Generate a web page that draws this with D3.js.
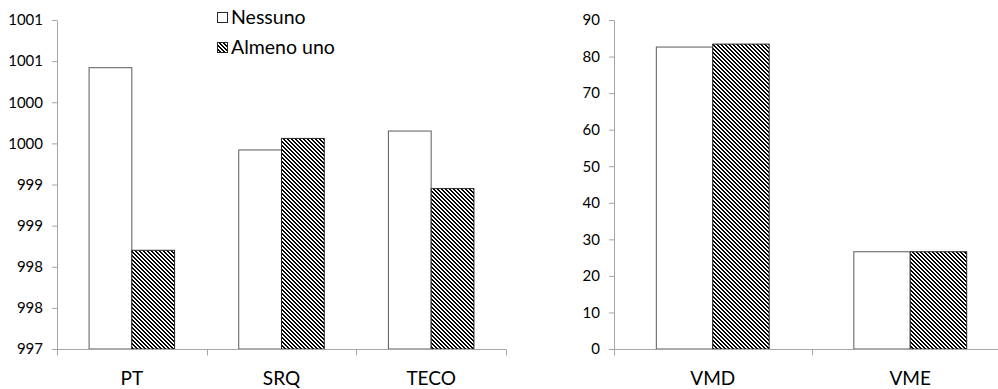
<!DOCTYPE html>
<html><head><meta charset="utf-8">
<script src="https://cdn.jsdelivr.net/npm/d3@7"></script>
<style>
body{margin:0;background:#fff}
svg{display:block}
text{font-family:Lato, "Open Sans", sans-serif; fill:#000}
</style>
</head><body>
<svg id="chart" width="998" height="389"></svg>
<script>
// ---- data ----
const seriesNames = ["Nessuno", "Almeno uno"];
const leftCategories = ["PT", "SRQ", "TECO"];
const leftNessuno = [1000.42, 999.42, 999.65];
const leftAlmeno = [998.20, 999.56, 998.95];
const leftTickValues = [997, 997.5, 998, 998.5, 999, 999.5, 1000, 1000.5, 1001];
const leftTickLabels = ["997", "998", "998", "999", "999", "1000", "1000", "1001", "1001"];
const rightCategories = ["VMD", "VME"];
const rightNessuno = [82.6, 26.6];
const rightAlmeno = [83.4, 26.6];
const rightTickValues = [0, 10, 20, 30, 40, 50, 60, 70, 80, 90];
const rightTickLabels = ["0", "10", "20", "30", "40", "50", "60", "70", "80", "90"];

const svg = d3.select("#chart");
const defs = svg.append("defs");
const pat = defs.append("pattern").attr("id", "hatch")
  .attr("width", 4).attr("height", 4).attr("patternUnits", "userSpaceOnUse");
pat.append("rect").attr("width", 4).attr("height", 4).attr("fill", "#fff");
pat.append("path").attr("shape-rendering", "crispEdges").attr("fill", "#000")
  .attr("d", "M0,0h2v1h-2z M1,1h2v1h-2z M2,2h2v1h-2z M3,3h1v1h-1z M0,3h1v1h-1z");

const axisColor = "#a6a6a6";
const styles = [
  {fill: "#fff", stroke: "#5a5a5a"},
  {fill: "url(#hatch)", stroke: "#262626"}
];

function panel(opts) {
  const {categories, s1, s2, domain, tickValues, tickLabels, xRange, yRange} = opts;
  const g = svg.append("g");
  const x0 = d3.scaleBand().domain(categories).range(xRange)
    .paddingInner(1.5 / 3.5).paddingOuter(0.75 / 3.5);
  const x1 = d3.scaleBand().domain(seriesNames).range([0, x0.bandwidth()]);
  const y = d3.scaleLinear().domain(domain).range(yRange);

  // y axis
  const ya = g.append("g").attr("transform", `translate(${xRange[0]},0)`)
    .call(d3.axisLeft(y).tickValues(tickValues)
      .tickFormat((d, i) => tickLabels[i]).tickSize(5).tickSizeOuter(0).tickPadding(9));
  ya.select(".domain").attr("stroke", axisColor);
  ya.selectAll(".tick line").attr("stroke", axisColor);
  ya.selectAll(".tick text").attr("font-size", 15).attr("fill", "#000")
    .attr("font-family", "Lato, sans-serif");

  // bars
  const data = [];
  categories.forEach((c, i) => {
    data.push({c, s: seriesNames[0], v: s1[i], k: 0});
    data.push({c, s: seriesNames[1], v: s2[i], k: 1});
  });
  g.selectAll("rect.bar").data(data).join("rect").attr("class", "bar")
    .attr("x", d => x0(d.c) + x1(d.s))
    .attr("width", x1.bandwidth())
    .attr("y", d => y(d.v))
    .attr("height", d => y(domain[0]) - y(d.v))
    .attr("fill", d => styles[d.k].fill)
    .attr("stroke", d => styles[d.k].stroke)
    .attr("stroke-width", 1);

  // x axis line and boundary ticks
  const base = Math.round(y(domain[0])) + 0.5;
  const r0 = x0.range()[0], step = x0.step();
  g.append("line").attr("x1", r0).attr("x2", r0 + step * categories.length)
    .attr("y1", base).attr("y2", base).attr("stroke", axisColor);
  d3.range(categories.length + 1).forEach(i => {
    const xx = Math.round(r0 + i * step) + 0.5;
    g.append("line").attr("x1", xx).attr("x2", xx).attr("y1", base).attr("y2", base + 6)
      .attr("stroke", axisColor);
  });
  // category labels
  g.selectAll("text.cat").data(categories).join("text").attr("class", "cat")
    .attr("x", c => x0(c) + x0.bandwidth() / 2).attr("y", 385)
    .attr("text-anchor", "middle").attr("font-size", 19).text(c => c);
}

panel({categories: leftCategories, s1: leftNessuno, s2: leftAlmeno,
  domain: [997, 1001], tickValues: leftTickValues, tickLabels: leftTickLabels,
  xRange: [57, 506], yRange: [349, 20]});
panel({categories: rightCategories, s1: rightNessuno, s2: rightAlmeno,
  domain: [0, 90], tickValues: rightTickValues, tickLabels: rightTickLabels,
  xRange: [614, 1009], yRange: [349, 20]});

// legend
const leg = svg.append("g");
const legRows = [17, 47];
seriesNames.forEach((s, i) => {
  leg.append("rect").attr("x", 217.5).attr("y", legRows[i] - 4.5).attr("width", 10).attr("height", 10)
    .attr("fill", styles[i].fill).attr("stroke", "#262626").attr("stroke-width", 1);
  leg.append("text").attr("x", 231).attr("y", legRows[i]).attr("dy", "0.36em")
    .attr("font-size", 19.5).text(s);
});
</script>
</body></html>
